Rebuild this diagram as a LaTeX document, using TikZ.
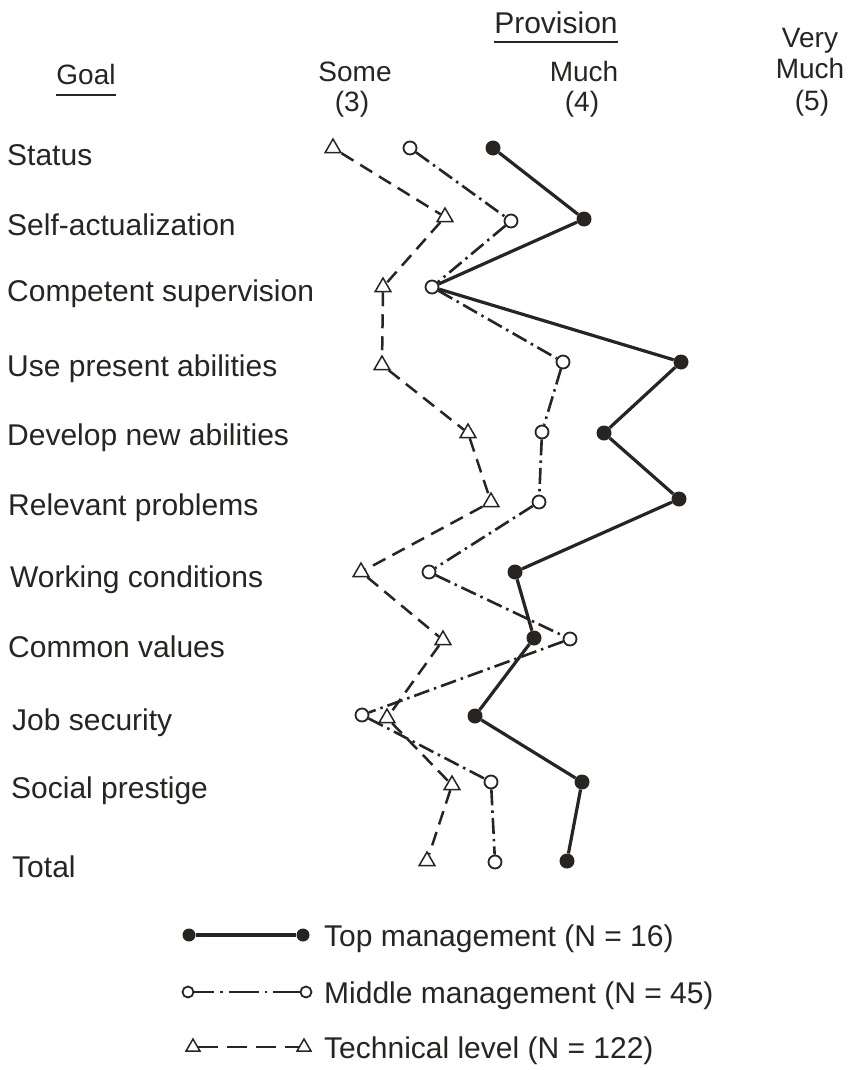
\documentclass[tikz,border=0pt]{standalone}
\usepackage{fontspec}
\setmainfont{Liberation Sans}
\usetikzlibrary{shapes.geometric}
\definecolor{ink}{RGB}{40,36,34}
\begin{document}
\begin{tikzpicture}[x=1pt,y=-1pt,
  every node/.style={text=ink},
  lbl/.style={anchor=base west, inner sep=0pt, font=\fontsize{30}{36}\selectfont},
  hdr/.style={anchor=base, inner sep=0pt, font=\fontsize{28}{34}\selectfont},
  topm/.style={circle, fill=ink, draw=none, minimum size=15pt, inner sep=0pt},
  midm/.style={circle, draw=ink, fill=white, line width=1.8pt, minimum size=13pt, inner sep=0pt},
  tecm/.style={regular polygon, regular polygon sides=3, draw=ink, fill=white, line width=1.5pt, minimum size=18pt, inner sep=0pt},
  topline/.style={draw=ink, line width=3.2pt},
  midline/.style={draw=ink, line width=2.6pt, dash pattern=on 16pt off 5pt on 2.5pt off 5pt},
  tecline/.style={draw=ink, line width=2.5pt, dash pattern=on 14pt off 8pt},
  uline/.style={draw=ink, line width=2pt},
]
\useasboundingbox[fill=white] (0,0) rectangle (848,1070);

% headers
\node[hdr, font=\fontsize{30}{36}\selectfont] (hprov) at (556,34) {Provision};
\draw[uline] ([yshift=-8pt]hprov.base west) -- ([yshift=-8pt]hprov.base east);
\node[hdr] (hgoal) at (86,85) {Goal};
\draw[uline] ([yshift=-10pt]hgoal.base west) -- ([yshift=-10pt]hgoal.base east);
\node[hdr] (hsome) at (355,82) {Some};
\node[hdr] (hthree) at (352,112) {(3)};
\node[hdr] (hmuch) at (584,82) {Much};
\node[hdr] (hfour) at (582,112) {(4)};
\node[hdr] (hvery) at (810,48) {Very};
\node[hdr] (hvmuch) at (810,79) {Much};
\node[hdr] (hfive) at (812,111) {(5)};

% goal labels
\node[lbl] (g1) at (7,165) {Status};
\node[lbl] (g2) at (7,235) {Self-actualization};
\node[lbl] (g3) at (7,301) {Competent supervision};
\node[lbl] (g4) at (7,376) {Use present abilities};
\node[lbl] (g5) at (7,445) {Develop new abilities};
\node[lbl] (g6) at (8,515) {Relevant problems};
\node[lbl] (g7) at (10,587) {Working conditions};
\node[lbl] (g8) at (8,657) {Common values};
\node[lbl] (g9) at (12,730) {Job security};
\node[lbl] (g10) at (11,798) {Social prestige};
\node[lbl] (g11) at (12,877) {Total};

% technical level
\node[tecm] (c1) at (333,148) {};
\node[tecm] (c2) at (445,217) {};
\node[tecm] (c3) at (383,287) {};
\node[tecm] (c4) at (382,365) {};
\node[tecm] (c5) at (468,433) {};
\node[tecm] (c6) at (491,502) {};
\node[tecm] (c7) at (361,572) {};
\node[tecm] (c8) at (443,640) {};
\node[tecm] (c9) at (387,718) {};
\node[tecm] (c10) at (452,785) {};
\node[tecm] (c11) at (427,861) {};
\draw[tecline] (c1) -- (c2) -- (c3) -- (c4) -- (c5) -- (c6) -- (c7) -- (c8) -- (c9) -- (c10) -- (c11);

% middle management
\node[midm] (m1) at (410,148) {};
\node[midm] (m2) at (511,221) {};
\node[midm] (m3) at (432,287) {};
\node[midm] (m4) at (563,362) {};
\node[midm] (m5) at (542,432) {};
\node[midm] (m6) at (539,502) {};
\node[midm] (m7) at (429,572) {};
\node[midm] (m8) at (570,639) {};
\node[midm] (m9) at (362,715) {};
\node[midm] (m10) at (491,782) {};
\node[midm] (m11) at (495,862) {};
\draw[midline] (m1) -- (m2) -- (m3) -- (m4) -- (m5) -- (m6) -- (m7) -- (m8) -- (m9) -- (m10) -- (m11);

% top management
\node[topm] (t1) at (493,148) {};
\node[topm] (t2) at (584,219) {};
\node[topm] (t4) at (681,362) {};
\node[topm] (t5) at (604,433) {};
\node[topm] (t6) at (679,499) {};
\node[topm] (t7) at (515,572) {};
\node[topm] (t8) at (534,638) {};
\node[topm] (t9) at (475,716) {};
\node[topm] (t10) at (582,782) {};
\node[topm] (t11) at (567,861) {};
\draw[topline] (t1) -- (t2) -- (m3) -- (t4) -- (t5) -- (t6) -- (t7) -- (t8) -- (t9) -- (t10) -- (t11);

% legend
\node[topm, minimum size=13pt] (la1) at (189,935) {};
\node[topm, minimum size=13pt] (la2) at (303,935) {};
\draw[topline] (la1) -- (la2);
\node[lbl] (lta) at (324,946) {Top management (N = 16)};

\node[midm, minimum size=11pt] (lb1) at (188,992) {};
\node[midm, minimum size=11pt] (lb2) at (306,992) {};
\draw[midline, dash pattern=on 20pt off 6pt on 2.5pt off 6pt on 30pt off 6pt on 2.5pt off 6pt on 40pt] (lb1) -- (lb2);
\node[lbl] (ltb) at (324,1003) {Middle management (N = 45)};

\node[tecm, minimum size=16pt] (lc1) at (193,1047) {};
\node[tecm, minimum size=16pt] (lc2) at (304,1047) {};
\draw[tecline, dash pattern=on 20pt off 9pt on 20pt off 9pt on 20pt off 9pt on 40pt] (lc1) -- (lc2);
\node[lbl] (ltc) at (324,1058) {Technical level (N = 122)};
\end{tikzpicture}
\end{document}
